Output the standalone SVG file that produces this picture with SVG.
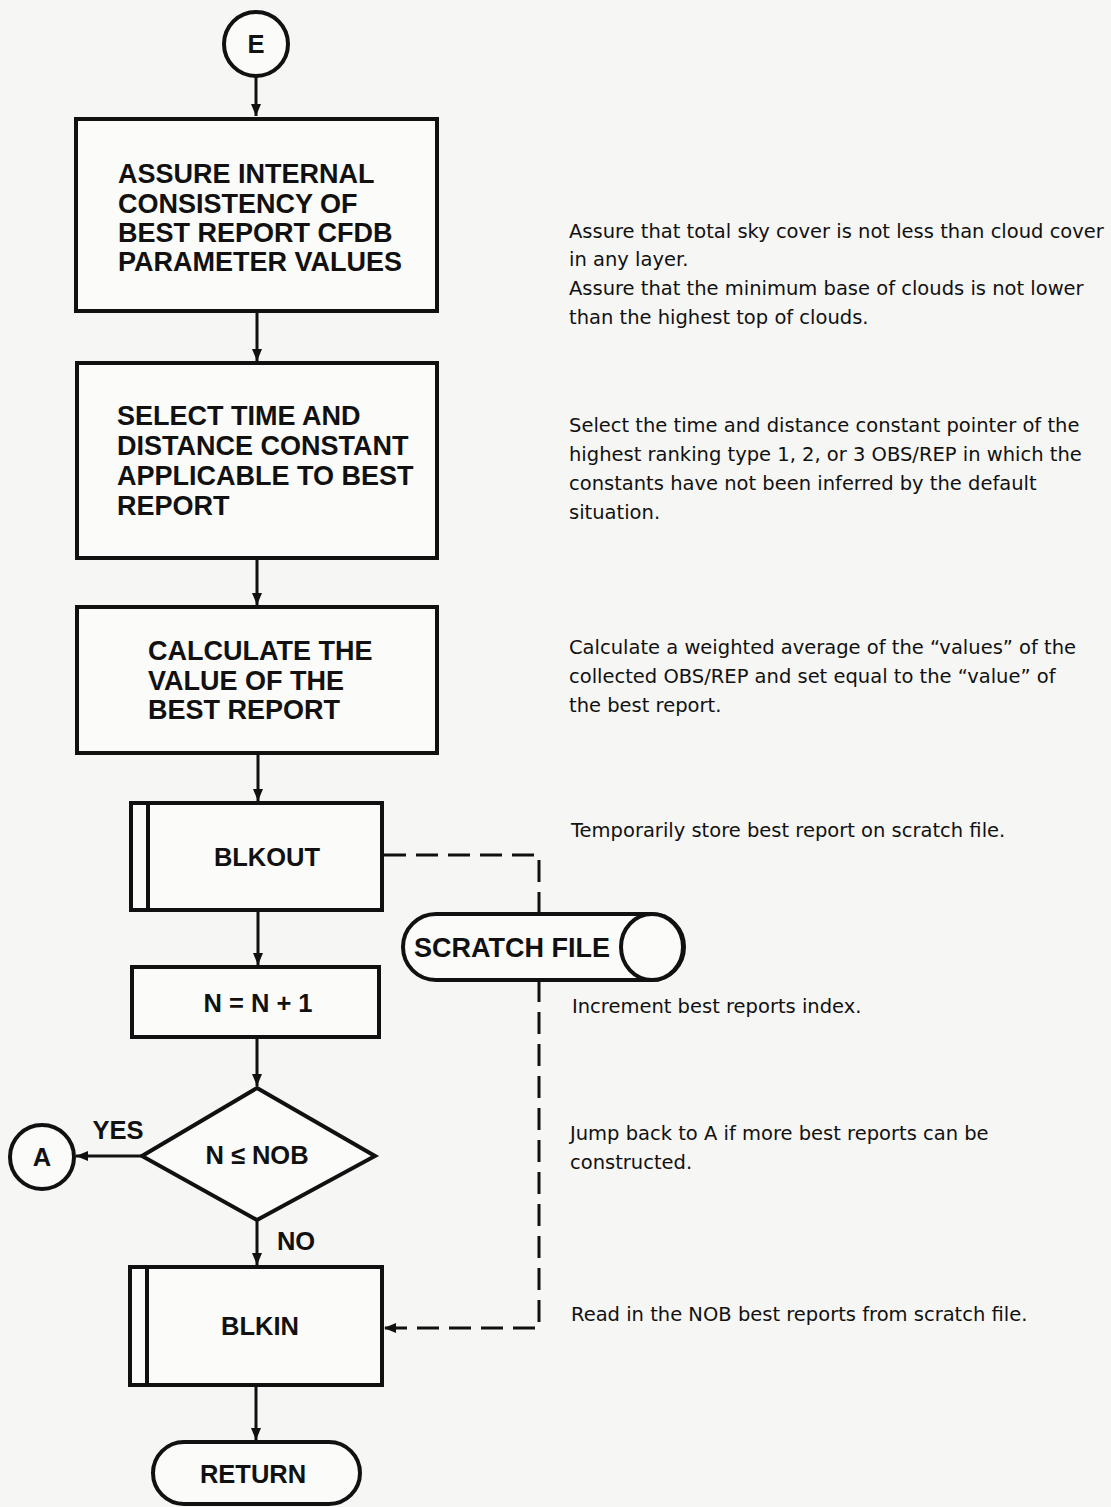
<svg xmlns="http://www.w3.org/2000/svg" width="1111" height="1507" viewBox="0 0 1111 1507">
<style>
.bg{fill:#f6f6f4}
.shape{fill:#fbfbfa;stroke:#111;stroke-width:4}
.line{fill:none;stroke:#111;stroke-width:3}
.dash{fill:none;stroke:#111;stroke-width:3;stroke-dasharray:22 10}
.bt{font-family:"Liberation Sans",Arial,sans-serif;font-weight:bold;font-size:27px;fill:#111}
.lab{font-family:"Liberation Sans",Arial,sans-serif;font-weight:bold;font-size:25.5px;fill:#111}
.note{font-family:"DejaVu Sans","Liberation Sans",sans-serif;font-size:19.5px;fill:#111}
</style>
<defs>
<marker id="ah" viewBox="0 0 12 10" refX="12" refY="5" markerWidth="12" markerHeight="10" markerUnits="userSpaceOnUse" orient="auto">
<path d="M0,0 L12,5 L0,10 z" fill="#111"/>
</marker>
</defs>
<rect class="bg" x="0" y="0" width="1111" height="1507"/>

<g id="connectors">
<line class="line" x1="256" y1="76" x2="256" y2="116" marker-end="url(#ah)"/>
<line class="line" x1="257" y1="312" x2="257" y2="361" marker-end="url(#ah)"/>
<line class="line" x1="257" y1="558" x2="257" y2="605" marker-end="url(#ah)"/>
<line class="line" x1="258" y1="753" x2="258" y2="801" marker-end="url(#ah)"/>
<line class="line" x1="258" y1="910" x2="258" y2="965" marker-end="url(#ah)"/>
<line class="line" x1="257" y1="1037" x2="257" y2="1086" marker-end="url(#ah)"/>
<line class="line" x1="257" y1="1220" x2="257" y2="1265" marker-end="url(#ah)"/>
<line class="line" x1="256" y1="1385" x2="256" y2="1440" marker-end="url(#ah)"/>
<line class="line" x1="142" y1="1156" x2="76" y2="1156" marker-end="url(#ah)"/>
<polyline class="dash" points="384,855 539,855 539,914"/>
<polyline class="dash" points="539,980 539,1328 384,1328" marker-end="url(#ah)"/>
</g>

<g id="node-E">
<circle class="shape" cx="256" cy="44" r="32"/>
<text class="lab" x="256" y="53" text-anchor="middle">E</text>
</g>

<g id="node-assure">
<rect class="shape" x="76" y="119" width="361" height="192"/>
<text class="bt" x="118" y="183">ASSURE INTERNAL</text>
<text class="bt" x="118" y="213">CONSISTENCY OF</text>
<text class="bt" x="118" y="242">BEST REPORT CFDB</text>
<text class="bt" x="118" y="271">PARAMETER VALUES</text>
</g>

<g id="node-select">
<rect class="shape" x="77" y="363" width="360" height="195"/>
<text class="bt" x="117" y="425">SELECT TIME AND</text>
<text class="bt" x="117" y="455">DISTANCE CONSTANT</text>
<text class="bt" x="117" y="485">APPLICABLE TO BEST</text>
<text class="bt" x="117" y="515">REPORT</text>
</g>

<g id="node-calc">
<rect class="shape" x="77" y="607" width="360" height="146"/>
<text class="bt" x="148" y="660">CALCULATE THE</text>
<text class="bt" x="148" y="690">VALUE OF THE</text>
<text class="bt" x="148" y="719">BEST REPORT</text>
</g>

<g id="node-blkout">
<rect class="shape" x="131" y="803" width="251" height="107"/>
<line class="line" x1="148" y1="803" x2="148" y2="910" style="stroke-width:4"/>
<text class="lab" x="267" y="866" text-anchor="middle">BLKOUT</text>
</g>

<g id="node-scratch">
<path class="shape" d="M436,914 H652 A32,33 0 0 1 652,980 H436 A33,33 0 0 1 436,914 Z"/>
<ellipse class="shape" cx="652" cy="947" rx="31" ry="33"/>
<text class="lab" x="512" y="957" text-anchor="middle" style="font-size:27px">SCRATCH FILE</text>
</g>

<g id="node-incr">
<rect class="shape" x="132" y="967" width="247" height="70"/>
<text class="lab" x="258" y="1012" text-anchor="middle">N = N + 1</text>
</g>

<g id="node-decision">
<polygon class="shape" points="257,1088 375,1156 257,1220 142,1156"/>
<text class="lab" x="257" y="1164" text-anchor="middle">N ≤ NOB</text>
<text class="lab" x="118" y="1139" text-anchor="middle">YES</text>
<text class="lab" x="296" y="1250" text-anchor="middle">NO</text>
</g>

<g id="node-A">
<circle class="shape" cx="42" cy="1157" r="32"/>
<text class="lab" x="42" y="1166" text-anchor="middle">A</text>
</g>

<g id="node-blkin">
<rect class="shape" x="130" y="1267" width="252" height="118"/>
<line class="line" x1="147" y1="1267" x2="147" y2="1385" style="stroke-width:4"/>
<text class="lab" x="260" y="1335" text-anchor="middle">BLKIN</text>
</g>

<g id="node-return">
<rect class="shape" x="153" y="1442" width="207" height="62" rx="31" ry="31"/>
<text class="lab" x="253" y="1483" text-anchor="middle">RETURN</text>
</g>

<g id="notes">
<text class="note" x="569" y="238">Assure that total sky cover is not less than cloud cover</text>
<text class="note" x="569" y="266">in any layer.</text>
<text class="note" x="569" y="295">Assure that the minimum base of clouds is not lower</text>
<text class="note" x="569" y="324">than the highest top of clouds.</text>
<text class="note" x="569" y="432">Select the time and distance constant pointer of the</text>
<text class="note" x="569" y="461">highest ranking type 1, 2, or 3 OBS/REP in which the</text>
<text class="note" x="569" y="490">constants have not been inferred by the default</text>
<text class="note" x="569" y="519">situation.</text>
<text class="note" x="569" y="654">Calculate a weighted average of the “values” of the</text>
<text class="note" x="569" y="683">collected OBS/REP and set equal to the “value” of</text>
<text class="note" x="569" y="712">the best report.</text>
<text class="note" x="571" y="837">Temporarily store best report on scratch file.</text>
<text class="note" x="572" y="1013">Increment best reports index.</text>
<text class="note" x="570" y="1140">Jump back to A if more best reports can be</text>
<text class="note" x="570" y="1169">constructed.</text>
<text class="note" x="571" y="1321">Read in the NOB best reports from scratch file.</text>
</g>
</svg>
